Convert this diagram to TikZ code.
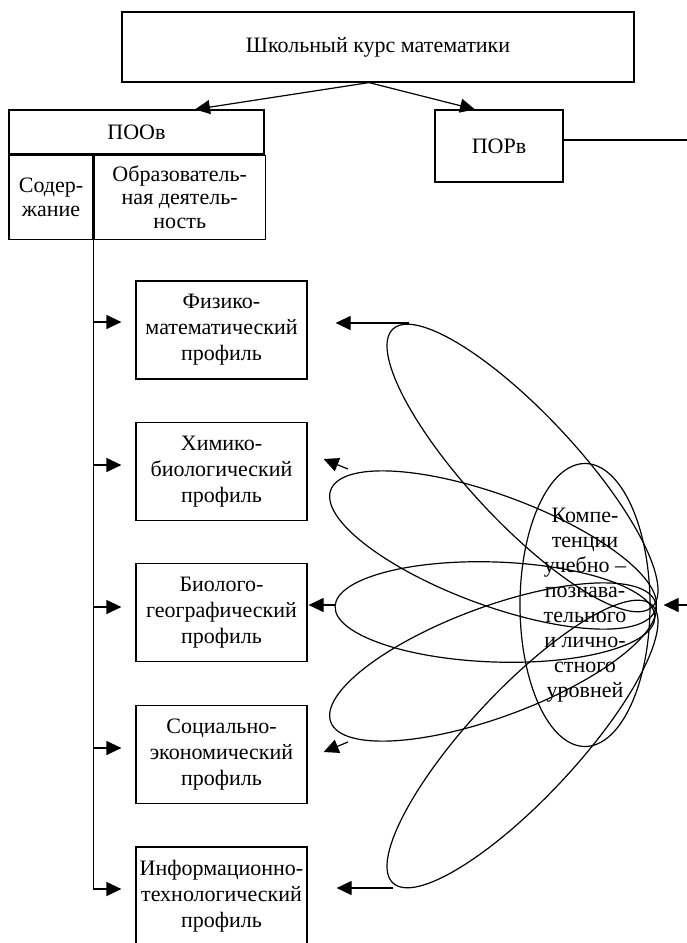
\documentclass[tikz,border=0pt]{standalone}
\usepackage{fontspec}
\setmainfont{Liberation Serif}
\usetikzlibrary{arrows.meta,shapes.geometric}

\begin{document}
\begin{tikzpicture}[
        x=1pt, y=-1pt,
        every node/.style={font=\fontsize{22}{26}\selectfont},
        box/.style={
            rectangle,
            draw,
            line width=1.2pt,
            align=center,
            inner sep=2pt
        },
        cell/.style={
            box,
            minimum height=84pt,
            anchor=north west,
            font=\fontsize{22}{23.5}\selectfont
        },
        profile/.style={
            box,
            minimum width=171pt,
            minimum height=98pt
        },
        komp/.style={
            ellipse,
            draw,
            line width=1.2pt,
            align=center,
            minimum width=130pt,
            minimum height=283pt,
            inner sep=0pt,
            font=\fontsize{22}{25}\selectfont
        },
        petal/.style={line width=1.2pt},
        arr/.style={line width=1.2pt, -{Triangle[length=15pt,width=14pt]}}
    ]
    \useasboundingbox (0,0) rectangle (687,943);

    % Top
    \node[box, minimum width=512pt, minimum height=70pt] (kurs) at (378,47) {Школьный курс математики};

    \node[box, minimum width=255pt, minimum height=44pt] (poo) at (136.5,132) {ПООв};
    \node[cell, minimum width=84pt] (soder) at (poo.south west) {Содер-\\жание};
    \node[cell, minimum width=171pt] (obraz) at (soder.north east) {Образователь-\\ная деятель-\\ность};

    \node[box, minimum width=128pt, minimum height=72pt] (por) at (499,146) {ПОРв};

    \draw[arr] ([xshift=-9pt]kurs.south) -- ([xshift=58.5pt]poo.north);
    \draw[arr] ([xshift=-9pt]kurs.south) -- ([xshift=-24pt]por.north);

    % Profiles
    \node[profile] (fizmat) at (221.5,330) {Физико-\\математический\\профиль};
    \node[profile] (himbio) at (221.5,471.5) {Химико-\\биологический\\профиль};
    \node[profile] (biogeo) at (221.5,612.5) {Биолого-\\географический\\профиль};
    \node[profile] (soceco) at (221.5,754.5) {Социально-\\экономический\\профиль};
    \node[profile] (inftech) at (221.5,896) {Информационно-\\технологический\\профиль};

    \draw[arr] (soder.south east) |- ([shift={(-14,-8)}]fizmat.west);
    \draw[arr] (soder.south east) |- ([shift={(-14,-6.5)}]himbio.west);
    \draw[arr] (soder.south east) |- ([shift={(-14,-5.5)}]biogeo.west);
    \draw[arr] (soder.south east) |- ([shift={(-14,-6.5)}]soceco.west);
    \draw[arr] (soder.south east) |- ([shift={(-14,-7)}]inftech.west);

    % Competences
    \node[komp] (komp) at (585,605) {Компе-\\тенции\\учебно –\\познава-\\тельного\\и лично-\\стного\\уровней};

    \draw[petal, rotate around={-47:(522.5,468)}] (522.5,468) ellipse [x radius=190, y radius=54];
    \draw[petal, rotate around={-20.3:(493,550)}] (493,550) ellipse [x radius=173, y radius=55];
    \draw[petal, rotate around={-2:(495,612)}] (495,612) ellipse [x radius=160, y radius=50];
    \draw[petal, rotate around={20.3:(493,662)}] (493,662) ellipse [x radius=173, y radius=55];
    \draw[petal, rotate around={47:(522.5,744)}] (522.5,744) ellipse [x radius=190, y radius=54];

    \coordinate (pA) at (409,323);
    \coordinate (pB) at (348,469);
    \coordinate (pC) at (336,605);
    \coordinate (pD) at (348,742);
    \coordinate (pE) at (393,888);
    \draw[arr] (pA) -- ([shift={(28,-7)}]fizmat.east);
    \draw[arr] (pB) -- ([shift={(16,-12.5)}]himbio.east);
    \draw[arr] (pC) -- ([shift={(1,-7.5)}]biogeo.east);
    \draw[arr] (pD) -- ([shift={(16,-2.5)}]soceco.east);
    \draw[arr] (pE) -- ([shift={(29,-8)}]inftech.east);

    % Right edge
    \coordinate (outR) at (687,140);
    \coordinate (inR) at (687,605);
    \draw[line width=1.2pt] ([yshift=6pt]por.east) -- (outR);
    \draw[arr] (inR) -- ([xshift=13pt]komp.east);

\end{tikzpicture}
\end{document}
